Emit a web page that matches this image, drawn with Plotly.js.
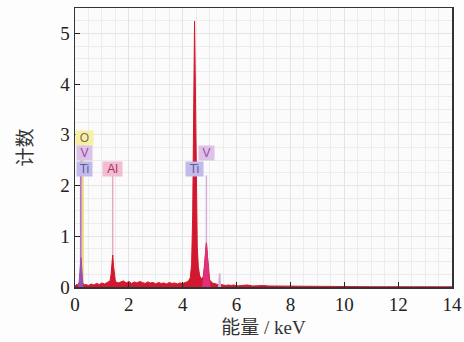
<!DOCTYPE html>
<html>
<head>
<meta charset="utf-8">
<script src="https://cdn.plot.ly/plotly-3.0.1.min.js"></script>
<style>html,body{margin:0;padding:0;background:#fdfdfd;}#chart{width:464px;height:342px;}</style>
</head>
<body>
<div id="chart"></div>
<script>
// EDS spectrum (energy in keV, counts)
const energy = [0.00,0.05,0.10,0.15,0.20,0.25,0.30,0.35,0.40,0.50,0.60,0.70,0.80,0.90,1.00,1.10,1.20,1.30,1.34,1.37,1.40,1.43,1.46,1.50,1.60,1.70,1.80,1.90,2.00,2.10,2.20,2.30,2.40,2.50,2.60,2.70,2.80,2.90,3.00,3.10,3.20,3.30,3.40,3.50,3.60,3.70,3.80,3.90,4.00,4.10,4.20,4.28,4.33,4.37,4.40,4.42,4.44,4.46,4.48,4.51,4.54,4.58,4.63,4.70,4.76,4.80,4.84,4.88,4.92,4.96,5.00,5.10,5.20,5.30,5.40,5.50,5.60,5.70,5.80,5.90,6.00,6.20,6.40,6.60,6.80,7.00,7.20,7.40,7.60,7.80,8.00,8.50,9.00,9.50,10.0,10.5,11.0,12.0,13.0,14.0];
const counts = [0.02,0.05,0.04,0.08,0.12,0.10,0.06,0.04,0.05,0.03,0.06,0.04,0.07,0.05,0.08,0.06,0.09,0.12,0.25,0.45,0.63,0.42,0.22,0.11,0.08,0.10,0.12,0.08,0.11,0.07,0.10,0.08,0.11,0.09,0.07,0.10,0.08,0.09,0.06,0.09,0.07,0.08,0.06,0.09,0.07,0.08,0.06,0.08,0.07,0.09,0.11,0.18,0.45,1.40,3.00,4.30,5.24,4.40,3.10,1.60,0.80,0.40,0.22,0.16,0.20,0.38,0.62,0.87,0.60,0.30,0.14,0.08,0.06,0.05,0.05,0.04,0.03,0.04,0.03,0.04,0.02,0.03,0.04,0.02,0.03,0.03,0.02,0.02,0.015,0.02,0.01,0.01,0.012,0.008,0.01,0.008,0.006,0.005,0.004,0.004];

// low-energy peak (Ti L / V L / O K)
const lowE = [0.14,0.18,0.20,0.22,0.24,0.26,0.30];
const lowC = [0,0.25,0.48,0.58,0.45,0.20,0];
// V Ka peak
const vE = [4.74,4.78,4.82,4.85,4.88,4.91,4.94,4.98,5.02];
const vC = [0,0.20,0.45,0.70,0.87,0.65,0.35,0.12,0];
// small peak (V Kb)
const vbE = [5.34,5.37,5.40];
const vbC = [0,0.27,0];

// element marker lines
const markE   = [0.22,0.24,0.29,1.40,4.44,4.88];
const markTop = [2.20,2.50,2.80,2.20,2.20,2.20];
const markColor = ['#9464c4','#c48ad0','#ecdc78','#eaa8c8','#b8b0e0','#d6b0dc'];

// element labels
const labelText = ['O','V','Ti','Al','Ti','V'];
const labelE = [0.36,0.34,0.34,1.39,4.43,4.89];
const labelY = [2.93,2.64,2.33,2.33,2.33,2.64];
const labelBg = ['#f6efa4','#dcc2e6','#c2bae8','#f2bcd2','#c2bae8','#dcc2e6'];
const labelFg = ['#7a7060','#9a4aa8','#5a5aa0','#a83058','#5a5aa0','#9a4aa8'];
const labelW = [15,13,13,17,15,13];

const traces = [];
markE.forEach((e,i)=>{
  traces.push({x:[e,e],y:[0,markTop[i]],mode:'lines',line:{color:markColor[i],width:i<3?2:1.5},hoverinfo:'skip',showlegend:false});
});
traces.push({x:energy,y:counts,mode:'lines',fill:'tozeroy',fillcolor:'#d2182e',line:{color:'#d2182e',width:1},showlegend:false});
traces.push({x:lowE,y:lowC,mode:'lines',fill:'tozeroy',fillcolor:'#9c4eb8',line:{color:'#9c4eb8',width:1},showlegend:false});
traces.push({x:vE,y:vC,mode:'lines',fill:'tozeroy',fillcolor:'#e0307a',line:{color:'#e0307a',width:1},showlegend:false});
traces.push({x:vbE,y:vbC,mode:'lines',fill:'tozeroy',fillcolor:'#d8a8d8',line:{color:'#d8a8d8',width:1.5},showlegend:false});

const annotations = labelText.map((t,i)=>({
  x:labelE[i],y:labelY[i],xref:'x',yref:'y',text:t,showarrow:false,
  bgcolor:labelBg[i],font:{family:'Liberation Sans, Arial',size:12,color:labelFg[i]},
  width:labelW[i],height:12,borderpad:1,xanchor:'center',yanchor:'middle'
}));

const serif = 'Liberation Serif, Times New Roman, Noto Sans CJK SC, serif';
const layout = {
  width:464,height:342,
  margin:{l:75,r:12,t:8,b:55},
  paper_bgcolor:'#fdfdfd',plot_bgcolor:'#fbfbfb',
  showlegend:false,
  font:{family:serif,size:18,color:'#222'},
  xaxis:{range:[0,14],dtick:2,tick0:0,ticks:'inside',ticklen:5,tickcolor:'#222',
    showline:true,mirror:true,linecolor:'#333',linewidth:1.5,
    showgrid:true,gridcolor:'#e4e4e4',gridwidth:1,zeroline:false,
    minor:{dtick:0.5,showgrid:true,gridcolor:'#ececec',ticklen:0},
    tickfont:{family:serif,size:19,color:'#222'},
    title:{text:'能量 / keV',font:{family:serif,size:19,color:'#333'},standoff:6}},
  yaxis:{range:[0,5.5],dtick:1,tick0:0,ticks:'inside',ticklen:5,tickcolor:'#222',
    showline:true,mirror:true,linecolor:'#333',linewidth:1.5,
    showgrid:true,gridcolor:'#e4e4e4',gridwidth:1,zeroline:false,
    minor:{dtick:0.25,showgrid:true,gridcolor:'#ececec',ticklen:0},
    tickfont:{family:serif,size:19,color:'#222'},
    title:{text:'计数',font:{family:serif,size:19,color:'#333'},standoff:22}},
  annotations:annotations
};
Plotly.newPlot('chart',traces,layout,{displayModeBar:false,staticPlot:true});
</script>
</body>
</html>
